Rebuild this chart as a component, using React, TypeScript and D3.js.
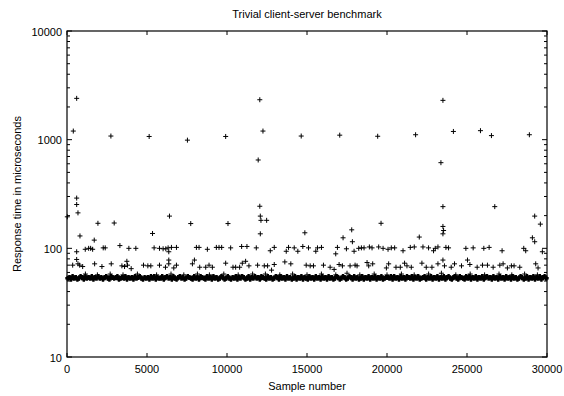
import React from "react";
import * as d3 from "d3";

const TITLE = "Trivial client-server benchmark";
const X_LABEL = "Sample number";
const Y_LABEL = "Response time in microseconds";
const X_TICKS = [0, 5000, 10000, 15000, 20000, 25000, 30000];
const Y_TICKS = [10, 100, 1000, 10000];

// spikes around 600-2400 us
const spikes: [number, number][] = [
  [605, 2400], [393, 1200], [2744, 1080], [5135, 1070], [7527, 990], [9917, 1070],
  [11950, 650], [12050, 2330], [12248, 1200], [14638, 1080], [17046, 1100], [19418, 1075],
  [21788, 1110], [23371, 614], [23496, 2300], [24150, 1190], [25841, 1210], [26528, 1090],
  [28898, 1110],
];

// medium outliers 110-300 us
const midOutliers: [number, number][] = [
  [605, 290], [605, 253], [686, 212], [20, 195], [1933, 170], [2950, 171], [811, 130],
  [5345, 137], [1703, 119], [6405, 198], [7734, 169], [10062, 169], [12050, 244],
  [12082, 198], [12123, 181], [12478, 181], [12082, 136], [14866, 139], [17795, 148],
  [17254, 125], [17837, 115], [19627, 170], [22017, 127], [23496, 242], [23496, 159],
  [23537, 146], [23496, 136], [26736, 242], [29231, 198], [29584, 167], [29086, 125],
  [29231, 115],
];

// row near 100 us
const row100: [number, number][] = [
  [605, 93], [1141, 98], [1353, 100], [1478, 100], [1603, 98], [2264, 101], [2389, 101],
  [3306, 106], [3867, 100], [4303, 100], [5445, 101], [5781, 100], [6006, 99], [6175, 99],
  [6320, 101], [6528, 102], [6840, 102], [8087, 102], [8253, 102], [8773, 98], [9334, 102],
  [9501, 102], [9667, 102], [10229, 101], [10915, 104], [11247, 104], [11831, 101], [6362, 93],
  [12705, 95], [12954, 102], [13703, 94], [13846, 102], [14202, 101], [14427, 94], [14739, 104],
  [15094, 101], [15550, 94], [15655, 101], [15904, 102], [16796, 89], [16902, 102], [17463, 99],
  [17943, 94], [18233, 100], [18400, 101], [18566, 101], [18899, 103], [19065, 101], [19480, 103],
  [19754, 100], [20065, 98], [20270, 101], [20478, 101], [21001, 95], [21456, 102], [21705, 103],
  [22248, 103], [22597, 101], [22909, 95], [23015, 100], [23184, 103], [23682, 102], [23847, 101],
  [24930, 100], [25385, 101], [26051, 100], [26383, 102], [27193, 95], [28547, 100], [28670, 95],
  [29709, 93],
];

// row near 70 us
const row70: [number, number][] = [
  [355, 70], [605, 79], [686, 72], [790, 70], [979, 68], [1727, 72], [2183, 68], [2765, 72],
  [3431, 69], [3597, 68], [3742, 76], [3783, 70], [4012, 65], [4781, 70], [5052, 69], [5239, 69],
  [5781, 70], [6155, 67], [6362, 78], [6362, 72], [6674, 66], [6840, 70], [7838, 72], [7963, 78],
  [8295, 67], [8669, 67], [8877, 70], [9085, 67], [9917, 73], [10374, 67], [10541, 67], [10790, 67],
  [10957, 73], [11164, 76], [11372, 69], [11913, 70], [12331, 69], [12537, 69], [12786, 63],
  [12954, 71], [13615, 75], [13989, 72], [14950, 70], [15199, 69], [15405, 69], [16029, 70],
  [16445, 67], [16695, 64], [17006, 71], [17213, 69], [17692, 69], [18005, 70], [18129, 69],
  [18753, 74], [18857, 69], [19106, 72], [19961, 66], [20104, 72], [20562, 67], [20831, 67],
  [21098, 73], [21248, 69], [21518, 67], [22182, 73], [22453, 67], [22809, 67], [23184, 72],
  [23592, 69], [24013, 67], [24220, 72], [23496, 78], [24656, 69], [25031, 78], [25180, 71],
  [25635, 67], [25967, 70], [26279, 70], [26634, 67], [27051, 70], [27256, 72], [27525, 66],
  [27775, 69], [27942, 69], [28298, 67], [29294, 72], [29441, 66],
];

// sparse points just above the dense band
const nearBand: [number, number][] = [
  [1150, 58], [1900, 57], [2700, 58], [3500, 57], [4400, 58], [5600, 57], [6500, 58], [7300, 57],
  [8150, 58], [8900, 57], [9800, 58], [10700, 57], [11600, 58], [12400, 58], [13300, 57],
  [14100, 58], [15000, 57], [15900, 58], [16800, 57], [17500, 59], [18300, 57], [19200, 58],
  [20000, 57], [20900, 58], [21700, 57], [22600, 58], [23400, 59], [24300, 57], [25200, 58],
  [26100, 57], [27000, 58], [27800, 57], [28600, 58], [29400, 57],
];

// dense band: one value (50 + digit) per 100 samples
const bandDigits =
  "34253423542534352435342453254345234352434253453243" +
  "42535243352453425324534235432534254325342534235423" +
  "53243524354235243534254325342354253425342352435243" +
  "25342534253425342354235423542534235243524352435234" +
  "43525342534254352435234524352435243524532453254325" +
  "35243524352453425342534253425342354235243524352453";
const bandValues = bandDigits.split("").map((d) => 50 + Number(d));

const W = 564;
const H = 396;
const L = 67;
const R = 547;
const T = 31;
const B = 357;

const x = d3.scaleLinear().domain([0, 30000]).range([L, R]);
const y = d3.scaleLog().domain([10, 10000]).range([B, T]);

const FONT = "'Liberation Sans', Arial, Helvetica, sans-serif";
const CROSS = "M-2.5,0H2.5M0,-2.5V2.5";

function Points({ data, sw = 1 }: { data: [number, number][]; sw?: number }) {
  return (
    <g>
      {data.map(([s, v], i) => (
        <path
          key={i}
          d={CROSS}
          transform={`translate(${x(s)},${y(v)})`}
          stroke="#000"
          strokeWidth={sw}
          fill="none"
        />
      ))}
    </g>
  );
}

export default function App() {
  const band: [number, number][] = bandValues.map((v, i) => [i * 100 + 50, v]);
  const minor: number[] = [];
  for (let d = 10; d < 10000; d *= 10) {
    for (let k = 2; k <= 9; k++) minor.push(d * k);
  }
  return (
    <svg
      width={W}
      height={H}
      style={{ position: "absolute", left: 0, top: 0, background: "#fff" }}
      fontFamily={FONT}
    >
      <rect x={0} y={0} width={W} height={H} fill="#fff" />
      <Points data={band} sw={2.4} />
      <Points data={nearBand} />
      <Points data={row70} />
      <Points data={row100} />
      <Points data={midOutliers} />
      <Points data={spikes} />
      {/* ticks */}
      {X_TICKS.map((t) => (
        <g key={"x" + t}>
          <line x1={x(t)} x2={x(t)} y1={B} y2={B - 4} stroke="#000" />
          <line x1={x(t)} x2={x(t)} y1={T} y2={T + 4} stroke="#000" />
          <text x={x(t)} y={373} fontSize={11} textAnchor="middle" fill="#000">
            {t}
          </text>
        </g>
      ))}
      {Y_TICKS.map((t) => (
        <g key={"y" + t}>
          <line x1={L} x2={L + 5} y1={y(t)} y2={y(t)} stroke="#000" />
          <line x1={R} x2={R - 5} y1={y(t)} y2={y(t)} stroke="#000" />
          <text x={62} y={y(t) + 4.5} fontSize={11} textAnchor="end" fill="#000">
            {t}
          </text>
        </g>
      ))}
      {minor.map((t) => (
        <g key={"m" + t}>
          <line x1={L} x2={L + 3} y1={y(t)} y2={y(t)} stroke="#000" />
          <line x1={R} x2={R - 3} y1={y(t)} y2={y(t)} stroke="#000" />
        </g>
      ))}
      <rect x={L} y={T} width={R - L} height={B - T} fill="none" stroke="#000" strokeWidth={1.2} />
      <text x={(L + R) / 2} y={18} fontSize={11} textAnchor="middle" fill="#000">
        {TITLE}
      </text>
      <text x={(L + R) / 2} y={390} fontSize={11} textAnchor="middle" fill="#000">
        {X_LABEL}
      </text>
      <text
        transform={`translate(20.5,${(T + B) / 2}) rotate(-90)`}
        fontSize={11}
        textAnchor="middle"
        fill="#000"
      >
        {Y_LABEL}
      </text>
    </svg>
  );
}
